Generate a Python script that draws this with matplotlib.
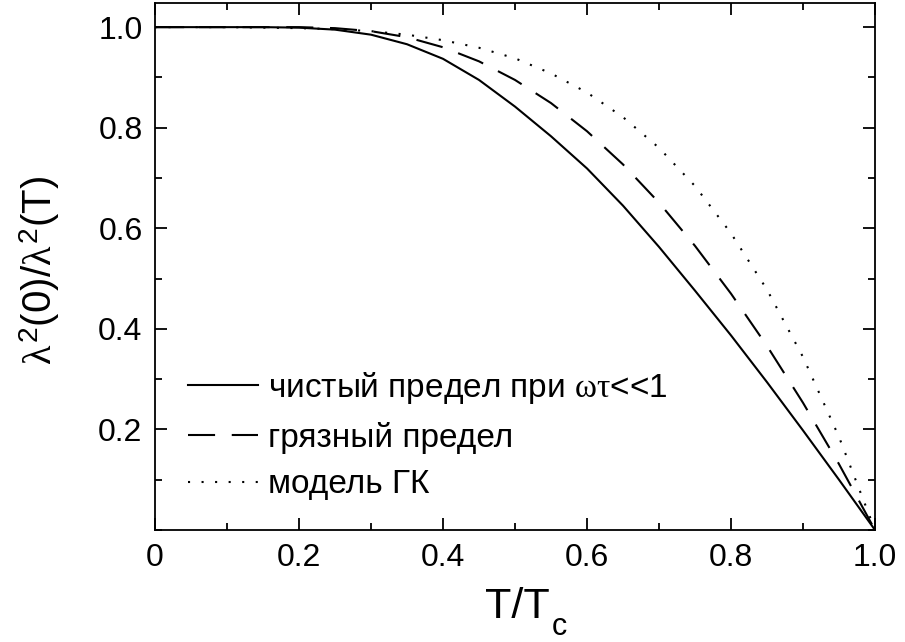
import matplotlib
matplotlib.use("Agg")
import matplotlib.pyplot as plt
from matplotlib.ticker import MultipleLocator

plt.rcParams['font.family'] = ['Liberation Sans', 'DejaVu Sans']
plt.rcParams['mathtext.fontset'] = 'custom'
plt.rcParams['mathtext.rm'] = 'Liberation Sans'
plt.rcParams['mathtext.it'] = 'Liberation Serif'

# T/Tc
t = [0.0, 0.05, 0.1, 0.15, 0.2, 0.25, 0.3, 0.35, 0.4, 0.45, 0.5,
     0.55, 0.6, 0.65, 0.7, 0.75, 0.8, 0.85, 0.9, 0.95, 1.0]

# чистый предел
clean = [1.0, 1.0, 1.0, 1.0, 0.999, 0.995, 0.985, 0.966, 0.937, 0.895, 0.842,
         0.783, 0.719, 0.645, 0.563, 0.476, 0.387, 0.294, 0.198, 0.1, 0.0]
# грязный предел
dirty = [1.0, 1.0, 1.0, 1.0, 1.0, 0.998, 0.992, 0.980, 0.960, 0.932, 0.895,
         0.849, 0.793, 0.727, 0.651, 0.565, 0.470, 0.366, 0.253, 0.131, 0.0]
# модель ГК
gk = [1.0, 1.0, 1.0, 0.999, 0.998, 0.996, 0.992, 0.985, 0.974, 0.959, 0.938,
      0.908, 0.870, 0.821, 0.760, 0.684, 0.590, 0.478, 0.344, 0.185, 0.0]

fig = plt.figure(figsize=(9.05, 6.42), dpi=100)
ax = fig.add_axes([155/905, 1-530/642, 720/905, 527/642])

ax.plot(t, clean, color='black', lw=1.5, label=r'чистый предел при $\omega\tau$<<1')
ax.plot(t, dirty, color='black', lw=1.5, dashes=(13, 8), label='грязный предел')
ax.plot(t, gk, color='black', lw=1.5, dashes=(1, 5.5), label='модель ГК')

ax.set_xlim(0, 1.0)
ax.set_ylim(0, 1.048)
ax.set_xticks([0, 0.2, 0.4, 0.6, 0.8, 1.0])
ax.set_xticklabels(['0', '0.2', '0.4', '0.6', '0.8', '1.0'])
ax.set_yticks([0.2, 0.4, 0.6, 0.8, 1.0])
ax.set_yticklabels(['0.2', '0.4', '0.6', '0.8', '1.0'])
ax.xaxis.set_minor_locator(MultipleLocator(0.1))
ax.yaxis.set_minor_locator(MultipleLocator(0.1))
ax.tick_params(which='both', direction='in', top=True, right=True, width=1.3)
ax.tick_params(which='major', length=8.5, labelsize=23, pad=9)
ax.tick_params(which='minor', length=5)
for s in ax.spines.values():
    s.set_linewidth(1.3)

# подписи осей
fig.text(485/905, 1-618/642, 'T/T', fontsize=31, va='baseline', ha='left')
fig.text(552/905, 1-635/642, 'c', fontsize=22, va='baseline', ha='left')
fig.text(40/905, 1-270/642, r'$\lambda^{2}\mathrm{(0)/}\lambda^{2}\mathrm{(T)}$',
         fontsize=29, rotation=90, ha='center', va='center')

ax.legend(loc='upper left', bbox_to_anchor=(188/905, 1-370/642), bbox_transform=fig.transFigure,
          frameon=False, fontsize=24, handlelength=2.1, handletextpad=0.3,
          labelspacing=0.47, borderaxespad=0, borderpad=0)

fig.savefig('out.png', dpi=100)
